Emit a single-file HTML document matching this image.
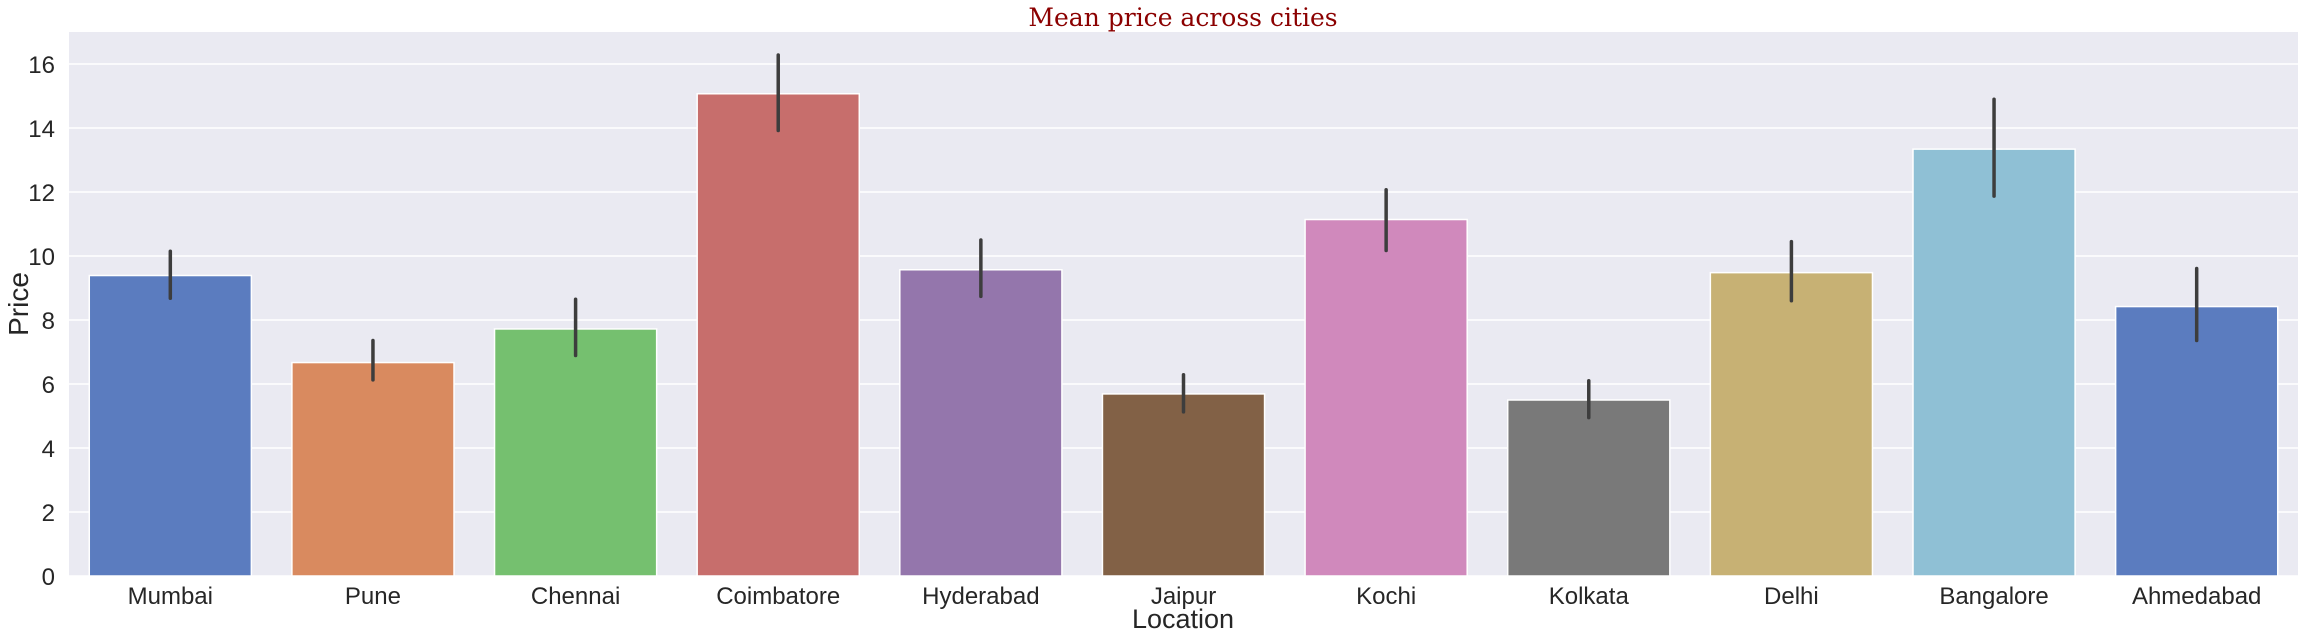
<!DOCTYPE html>
<html><head><meta charset="utf-8"><style>
body{margin:0;background:#fff;}
svg{display:block;font-family:"Liberation Sans",sans-serif;}
</style></head><body>
<svg id="chart" width="2313" height="638" viewBox="0 0 2313 638" xmlns="http://www.w3.org/2000/svg">
<rect x="69" y="32" width="2229" height="544" fill="#eaeaf2"/>
<g id="grid"></g><g id="bars"></g><g id="yticks"></g><g id="xticks"></g>
<text x="1183" y="26" text-anchor="middle" font-family="DejaVu Serif, serif" font-size="25" fill="#8b0000">Mean price across cities</text>
<text transform="translate(28,304) rotate(-90)" text-anchor="middle" font-size="28" fill="#262626">Price</text>
<text x="1183" y="628" text-anchor="middle" font-size="27" fill="#262626">Location</text>
</svg>
<script>
const categories=["Mumbai","Pune","Chennai","Coimbatore","Hyderabad","Jaipur","Kochi","Kolkata","Delhi","Bangalore","Ahmedabad"];
const means=[9.39,6.67,7.72,15.07,9.57,5.69,11.14,5.5,9.48,13.34,8.42];
const errLow=[8.68,6.13,6.89,13.92,8.74,5.13,10.17,4.95,8.6,11.87,7.36];
const errHigh=[10.15,7.36,8.65,16.28,10.5,6.29,12.07,6.1,10.45,14.9,9.61];
const colors=["#5b7cbf","#d98a5f","#75c06f","#c76e6c","#9476ac","#826146","#d089bc","#797979","#c7b174","#8fc0d5","#5b7cbf"];
const yTicks=[0,2,4,6,8,10,12,14,16];
const NS="http://www.w3.org/2000/svg";
const X0=69,X1=2298,Y0=576,YT=32,YMAX=17;
const y=v=>Y0-(v/YMAX)*(Y0-YT);
const step=(X1-X0)/categories.length;
const xc=i=>X0+step*(i+0.5);
function mk(tag,attrs,parent,txt){const e=document.createElementNS(NS,tag);for(const k in attrs)e.setAttribute(k,attrs[k]);if(txt!==undefined)e.textContent=txt;document.getElementById(parent).appendChild(e);return e;}
yTicks.forEach(t=>{
  const g=mk('line',{x1:X0,x2:X1,y1:y(t),y2:y(t),stroke:'#fff','stroke-width':1.5},'grid');
  
  
  const l=mk('text',{x:55,y:y(t)+9,'text-anchor':'end','font-size':24,fill:'#262626'},'yticks',String(t));
  
  
});
const bw=step*0.8;
categories.forEach((c,i)=>{
  const b=mk('rect',{x:xc(i)-bw/2,y:y(means[i]),width:bw,height:Y0-y(means[i]),fill:colors[i],stroke:'#fff','stroke-width':1.5},'bars');
  
  
  const e=mk('line',{x1:xc(i),x2:xc(i),y1:y(errLow[i]),y2:y(errHigh[i]),stroke:'#3d3d3d','stroke-width':3.5,'stroke-linecap':'round'},'bars');
  
  
  const t=mk('text',{x:xc(i),y:604,'text-anchor':'middle','font-size':24,fill:'#262626'},'xticks',c);
  
  
});
</script>
</body></html>
